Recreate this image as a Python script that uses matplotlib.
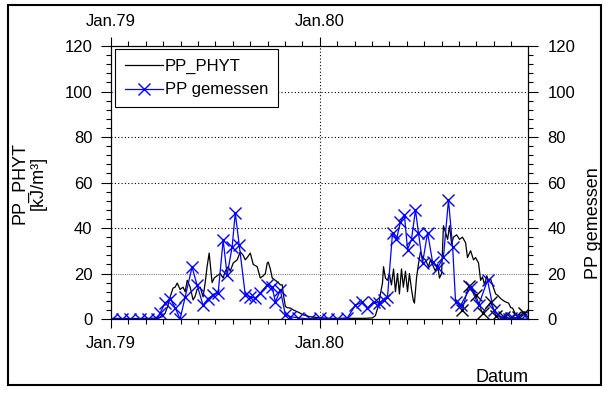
import numpy as np
import matplotlib
matplotlib.use('Agg')
import matplotlib.pyplot as plt
from matplotlib.patches import Rectangle

plt.rcParams['font.family'] = ['Liberation Sans', 'DejaVu Sans']

# simulated PP_PHYT (decimal years, kJ/m3)
phyt_x = [1979.000, 1979.091, 1979.187, 1979.225, 1979.245, 1979.259, 1979.273, 1979.283,
          1979.297, 1979.307, 1979.317, 1979.331, 1979.345, 1979.355, 1979.365, 1979.379,
          1979.393, 1979.403, 1979.412, 1979.427, 1979.441, 1979.451, 1979.460, 1979.470,
          1979.484, 1979.494, 1979.508, 1979.523, 1979.537, 1979.547, 1979.561, 1979.571,
          1979.585, 1979.604, 1979.619, 1979.633, 1979.643, 1979.652, 1979.667, 1979.681,
          1979.700, 1979.715, 1979.729, 1979.739, 1979.748, 1979.753, 1979.763, 1979.772,
          1979.787, 1979.801, 1979.811, 1979.820, 1979.825, 1979.835, 1979.844, 1979.859,
          1979.873, 1979.897, 1979.921, 1979.954, 1980.002, 1980.050, 1980.146, 1980.218,
          1980.252, 1980.266, 1980.281, 1980.290, 1980.300, 1980.305, 1980.314, 1980.324,
          1980.333, 1980.343, 1980.353, 1980.362, 1980.372, 1980.381, 1980.391, 1980.400,
          1980.410, 1980.420, 1980.429, 1980.439, 1980.448, 1980.453, 1980.463, 1980.472,
          1980.482, 1980.492, 1980.506, 1980.520, 1980.530, 1980.544, 1980.554, 1980.564,
          1980.573, 1980.583, 1980.592, 1980.602, 1980.612, 1980.621, 1980.631, 1980.640,
          1980.655, 1980.669, 1980.683, 1980.698, 1980.707, 1980.722, 1980.736, 1980.746,
          1980.760, 1980.770, 1980.779, 1980.789, 1980.799, 1980.808, 1980.818, 1980.827,
          1980.842, 1980.851, 1980.866, 1980.880, 1980.890, 1980.904, 1980.914, 1980.923,
          1980.938, 1980.947, 1980.962, 1980.976, 1980.997]
phyt_y = [0.3, 0.2, 0.3, 0.5, 1, 2.5, 6, 9.7,
          13.6, 14, 15.8, 13, 14, 12, 17, 14,
          8.4, 10, 13, 14, 9.7, 16, 23, 29,
          16, 18, 19, 20, 18, 21, 23, 21,
          24.6, 26, 29.5, 28, 26, 27, 29, 24,
          23, 18, 19, 20, 24.6, 25, 22, 18,
          17, 16, 15, 15, 11, 5.5, 5, 4.8,
          4, 3, 1.8, 1, 0.5, 0.3, 0.3, 0.3,
          0.5, 1.5, 6, 11, 15.8, 23, 18, 17,
          20, 15, 22, 12, 20, 11, 22, 14,
          21, 12, 20, 13, 8, 7, 18, 24,
          29.5, 27, 26, 23, 26, 23, 21, 24,
          18, 20, 41, 38, 35, 41, 33, 36,
          37, 35, 36, 33.5, 27, 30, 26, 27,
          24.6, 17, 18.5, 15, 19, 17, 17.5, 15,
          11, 10.5, 9, 8, 7.5, 7, 5, 4.8,
          2, 1.5, 3, 3, 3]

# measured PP
meas_x = [1979.005, 1979.053, 1979.091, 1979.139, 1979.177, 1979.221, 1979.235, 1979.259,
          1979.283, 1979.307, 1979.331, 1979.355, 1979.388, 1979.412, 1979.441, 1979.465,
          1979.489, 1979.513, 1979.537, 1979.556, 1979.580, 1979.595, 1979.614, 1979.643,
          1979.667, 1979.691, 1979.715, 1979.748, 1979.772, 1979.787, 1979.811, 1979.835,
          1979.859, 1979.897, 1979.954,
          1980.002, 1980.041, 1980.084, 1980.132, 1980.170, 1980.204, 1980.228, 1980.257,
          1980.281, 1980.305, 1980.324, 1980.348, 1980.367, 1980.386, 1980.405, 1980.420,
          1980.439, 1980.458, 1980.472, 1980.492, 1980.516, 1980.540, 1980.564, 1980.592,
          1980.616, 1980.636, 1980.650, 1980.674, 1980.722, 1980.760, 1980.803, 1980.832,
          1980.866, 1980.904, 1980.928, 1980.962, 1980.995]
meas_y = [0, 0, 0, 0, 0, 0, 2.6, 7,
          9, 5, 0, 9.7, 22.8, 15, 6, 9,
          10.5, 11.4, 34.7, 19.3, 31.7, 46.6, 32.5, 10.5,
          9.7, 9.2, 11.4, 15, 14, 7.5, 12.7, 1.8,
          1, 0.5, 0,
          0.5, 0, 0, 0.5, 6, 7.5, 4.8, 7.5,
          7, 8.4, 9.7, 37.8, 35, 42.6, 45.7, 30.5,
          35, 48, 38, 24.6, 38, 25, 22.4, 27.3,
          52.3, 31.6, 7.5, 6, 14, 6, 17, 4,
          0.5, 0, 0, 0, 0]

# second set of measurements (black crosses, late 1980)
meas2_x = [1980.683, 1980.712, 1980.746, 1980.779, 1980.818, 1980.842, 1980.880, 1980.914,
           1980.947, 1980.976]
meas2_y = [4, 14.5, 10.5, 2.6, 7.5, 1.5, 0.8, 0.3, 0.8, 2.5]

xtick_pos = [1979, 1980]
xtick_labels = ['Jan.79', 'Jan.80']
yticks = [0, 20, 40, 60, 80, 100, 120]

fig = plt.figure(figsize=(6.07, 3.96), dpi=100)
ax = fig.add_axes([0.1829, 0.1944, 0.687, 0.6894])

for v in [20, 40, 60, 80, 100]:
    ax.axhline(v, color='gray' if v == 20 else 'black', lw=0.8,
               ls=(0, (1, 1)) if v == 20 else (0, (1, 2)), zorder=1)
ax.axvline(1980, color='black', lw=0.8, ls=(0, (1, 2)), zorder=1)

ax.plot(phyt_x, phyt_y, color='black', lw=0.9, label='PP_PHYT', zorder=3)
ax.plot(meas2_x, meas2_y, color='black', lw=0.7, marker='x', ms=8, mew=1, zorder=3)
ax.plot(meas_x, meas_y, color='blue', lw=0.9, marker='x', ms=8, mew=1,
        label='PP gemessen', zorder=4)

ax.set_xlim(1979, 1980.997)
ax.set_ylim(0, 120)
ax.set_xticks(xtick_pos)
ax.set_xticklabels(xtick_labels)
ax.set_xticks(np.arange(1979, 1981, 1 / 12), minor=True)
ax.set_yticks(yticks)
ax.set_yticks(np.arange(0, 121, 4), minor=True)
ax.tick_params(axis='x', which='both', top=True, labeltop=True, direction='out', labelsize=12, pad=6)
ax.tick_params(axis='x', which='major', length=6.5, width=0.8)
ax.tick_params(axis='x', which='minor', length=3.5, width=0.8)
ax.tick_params(axis='y', which='both', direction='out', labelsize=12, pad=6.5)
ax.tick_params(axis='y', which='major', length=7, width=0.8)
ax.tick_params(axis='y', which='minor', length=3.5, width=0.8)

ax2 = ax.twinx()
ax2.set_ylim(0, 120)
ax2.set_yticks(yticks)
ax2.set_yticks(np.arange(0, 121, 4), minor=True)
ax2.tick_params(axis='y', which='both', direction='out', labelsize=12, pad=7)
ax2.tick_params(axis='y', which='major', length=7, width=0.8)
ax2.tick_params(axis='y', which='minor', length=3.5, width=0.8)

ax.set_ylabel('PP_PHYT\n[kJ/m³]', fontsize=13, linespacing=1.15)
ax.yaxis.set_label_coords(-0.153, 0.5)
ax2.set_ylabel('PP gemessen', fontsize=13)
ax2.yaxis.set_label_coords(1.137, 0.35)
ax.set_xlabel('Datum', fontsize=13, loc='right')
ax.xaxis.label.set_va('center')
ax.xaxis.set_label_coords(1.0, -0.216)

leg = ax.legend(loc='upper left', bbox_to_anchor=(0.0096, 0.989), borderaxespad=0,
                fontsize=12, fancybox=False, edgecolor='black', framealpha=1,
                handlelength=2.3, handletextpad=0.1, labelspacing=0.5, borderpad=0.6)
leg.get_frame().set_linewidth(0.8)
leg.set_zorder(10)

fig.patches.append(Rectangle((8 / 607, 11 / 396), 593 / 607, 380 / 396, transform=fig.transFigure,
                             fill=False, edgecolor='black', lw=1.5))

fig.savefig('out.png', dpi=100)
